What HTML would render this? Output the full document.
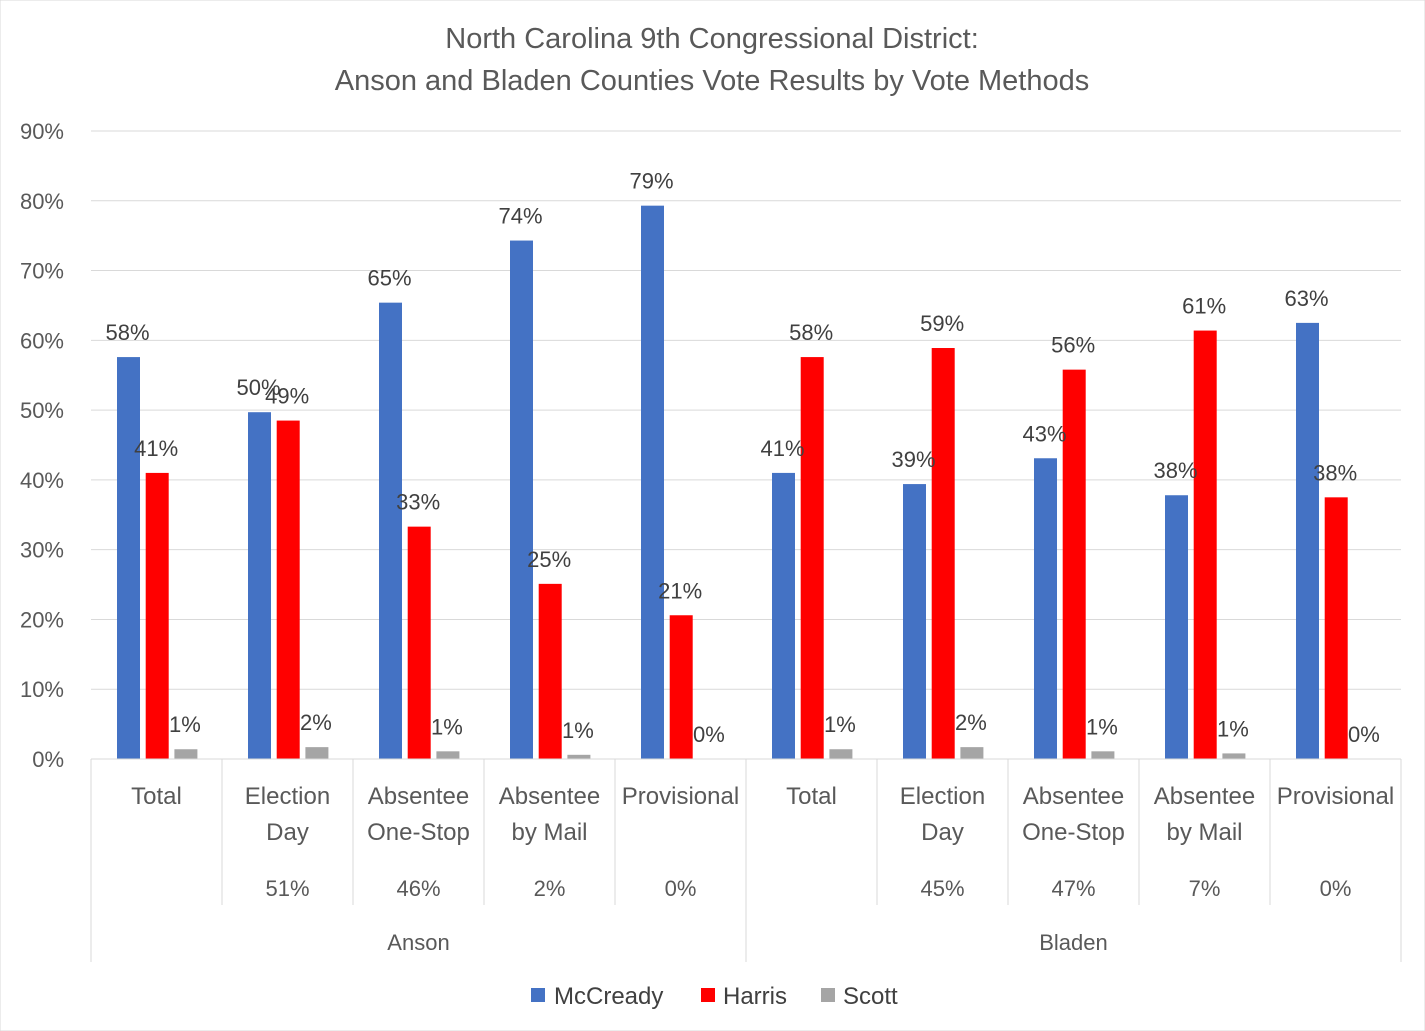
<!DOCTYPE html>
<html><head><meta charset="utf-8"><style>
html,body{margin:0;padding:0;background:#fff;}
svg{display:block;font-family:"Liberation Sans",Calibri,sans-serif;}
</style></head><body>
<svg id="chart" width="1425" height="1031" viewBox="0 0 1425 1031" xmlns="http://www.w3.org/2000/svg">
<rect x="0" y="0" width="1425" height="1031" fill="#fff" stroke="#d9d9d9"/>
<text x="712" y="48" text-anchor="middle" font-size="29" fill="#595959">North Carolina 9th Congressional District:</text>
<text x="712" y="90" text-anchor="middle" font-size="29" fill="#595959">Anson and Bladen Counties Vote Results by Vote Methods</text>
<g id="grid"></g><g id="bars"></g><g id="labels"></g><g id="axis"></g>
<g>
<rect x="531" y="988" width="14" height="14" fill="#4472C4"/>
<text x="554" y="1004" font-size="24" fill="#404040">McCready</text>
<rect x="701" y="988" width="14" height="14" fill="#FF0000"/>
<text x="723" y="1004" font-size="24" fill="#404040">Harris</text>
<rect x="821" y="988" width="14" height="14" fill="#A5A5A5"/>
<text x="843" y="1004" font-size="24" fill="#404040">Scott</text>
</g>
</svg>
<script>
const categories=[["Total"],["Election","Day"],["Absentee","One-Stop"],["Absentee","by Mail"],["Provisional"],["Total"],["Election","Day"],["Absentee","One-Stop"],["Absentee","by Mail"],["Provisional"]];
const shares=["","51%","46%","2%","0%","","45%","47%","7%","0%"];
const groups=["Anson","Bladen"];
const mccready=[57.6,49.7,65.4,74.3,79.3,41.0,39.4,43.1,37.8,62.5];
const harris=[41.0,48.5,33.3,25.1,20.6,57.6,58.9,55.8,61.4,37.5];
const scott=[1.4,1.7,1.1,0.6,0.0,1.4,1.7,1.1,0.8,0.0];
const yTicks=[0,10,20,30,40,50,60,70,80,90];
const NS="http://www.w3.org/2000/svg";
const x0=91,x1=1401,y0=759,yTop=131,yMax=90;
const cw=(x1-x0)/categories.length;
function y(v){return y0-(v/yMax)*(y0-yTop);}
function cx(i){return x0+i*cw;}
function mk(tag,attrs,parent,text){const e=document.createElementNS(NS,tag);for(const k in attrs)e.setAttribute(k,attrs[k]);if(text!==undefined)e.textContent=text;document.getElementById(parent).appendChild(e);return e;}
yTicks.forEach(t=>{
  if(t>0){const l=mk("line",{x1:x0,x2:x1,y1:y(t),y2:y(t),stroke:"#d9d9d9","stroke-width":1},"grid");
  
  }
  const tx=mk("text",{x:64,y:y(t)+8,"text-anchor":"end","font-size":22,fill:"#595959"},"axis",t+"%");
  
  
});
const series=[["mccready",mccready,"#4472C4"],["harris",harris,"#FF0000"],["scott",scott,"#A5A5A5"]];
const bw=23,off=26,step=28.7;
categories.forEach((c,i)=>{
  series.forEach((s,j)=>{
    const v=s[1][i],bx=cx(i)+off+j*step;
    const r=mk("rect",{x:bx,y:y(v),width:bw,height:y0-y(v),fill:s[2]},"bars");
    
    
    const lb=mk("text",{x:bx+bw/2-1,y:y(v)-17,"text-anchor":"middle","font-size":22,fill:"#404040"},"labels",Math.round(v)+"%");
    
    
  });
  const mid=cx(i)+cw/2;
  c.forEach((line,k)=>{
    const t=mk("text",{x:mid,y:804+k*36,"text-anchor":"middle","font-size":24,fill:"#595959"},"axis",line);
    
    
  });
  if(shares[i]){const t=mk("text",{x:mid,y:896,"text-anchor":"middle","font-size":22,fill:"#595959"},"axis",shares[i]);
  
  }
});
const ax=mk("line",{x1:x0,x2:x1,y1:y0,y2:y0,stroke:"#d9d9d9","stroke-width":1},"axis");


for(let i=0;i<=categories.length;i++){
  const long=(i%5===0);
  const l=mk("line",{x1:cx(i),x2:cx(i),y1:y0,y2:long?962:905,stroke:"#d9d9d9","stroke-width":1},"axis");
  
  
}
groups.forEach((g,gi)=>{
  const t=mk("text",{x:cx(gi*5)+cw*2.5,y:950,"text-anchor":"middle","font-size":22,fill:"#595959"},"axis",g);
  
  
});
</script>
</body></html>
